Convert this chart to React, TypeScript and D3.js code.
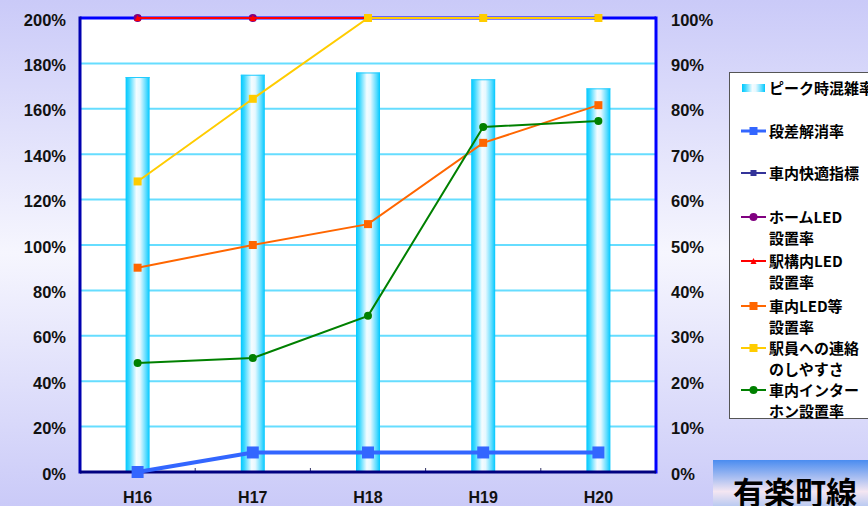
import React from 'react';
import * as d3 from 'd3';

const categories = ['H16', 'H17', 'H18', 'H19', 'H20'];
const peakCongestion = [174, 175, 176, 173, 169]; // left axis (%)
const stepFree = [0, 4.3, 4.3, 4.3, 4.3];
const comfortIndex = [100, 100, 100, 100, 100];
const platformLED = [100, 100, 100, 100, 100];
const stationLED = [100, 100, 100, 100, 100];
const carLED = [45, 50, 54.6, 72.5, 80.8];
const staffContact = [64, 82.2, 100, 100, 100];
const intercom = [24, 25.1, 34.4, 76, 77.3];

const leftTicks = [0, 20, 40, 60, 80, 100, 120, 140, 160, 180, 200];
const rightTicks = [0, 10, 20, 30, 40, 50, 60, 70, 80, 90, 100];

const legendLabels = [
  ['ピーク時混雑率'],
  ['段差解消率'],
  ['車内快適指標'],
  ['ホームLED', '設置率'],
  ['駅構内LED', '設置率'],
  ['車内LED等', '設置率'],
  ['駅員への連絡', 'のしやすさ'],
  ['車内インター', 'ホン設置率'],
];
const title = '有楽町線';

type Series = { values: number[]; color: string; width: number; marker: 'square' | 'circle' | 'triangle'; size: number };

const series: Series[] = [
  { values: stepFree, color: '#3366ff', width: 4, marker: 'square', size: 12 },
  { values: comfortIndex, color: '#333399', width: 2, marker: 'square', size: 6 },
  { values: platformLED, color: '#800080', width: 2, marker: 'circle', size: 8 },
  { values: stationLED, color: '#ff0000', width: 2, marker: 'triangle', size: 6 },
  { values: carLED, color: '#ff6600', width: 2, marker: 'square', size: 8 },
  { values: staffContact, color: '#ffcc00', width: 2, marker: 'square', size: 8 },
  { values: intercom, color: '#008000', width: 2, marker: 'circle', size: 8 },
];

const W = 868, H = 506;
const L = 80, R = 656, T = 18, B = 472;

function Marker({ x, y, s }: { x: number; y: number; s: Series }) {
  if (s.marker === 'square')
    return <rect x={x - s.size / 2} y={y - s.size / 2} width={s.size} height={s.size} fill={s.color} />;
  if (s.marker === 'circle') return <circle cx={x} cy={y} r={s.size / 2} fill={s.color} />;
  const h = s.size;
  return <path d={`M${x},${y - h / 2}L${x + h / 2},${y + h / 2}L${x - h / 2},${y + h / 2}Z`} fill={s.color} />;
}

export default function App() {
  const x = d3.scaleBand<string>().domain(categories).range([L, R]).padding(0);
  const yL = d3.scaleLinear().domain([0, 200]).range([B, T]);
  const yR = d3.scaleLinear().domain([0, 100]).range([B, T]);
  const cx = (c: string) => (x(c) as number) + x.bandwidth() / 2;
  const barW = 24;
  const line = d3
    .line<number>()
    .x((_, i) => cx(categories[i]))
    .y((d) => yR(d));

  const latin = '"Liberation Sans", Arial, sans-serif';
  const cjk = '"Noto Sans CJK JP", "Liberation Sans", sans-serif';

  const legX = 729, legY = 72;
  const itemY = [88, 131, 173, 217, 261, 306, 348, 390];

  return (
    <svg width={W} height={H} style={{ position: 'absolute', left: 0, top: 0 }}>
      <defs>
        <linearGradient id="bg" x1="0" y1="0" x2="0" y2="1">
          <stop offset="0" stopColor="#cacaf8" />
          <stop offset="0.5" stopColor="#f6f6fe" />
          <stop offset="1" stopColor="#cacaf8" />
        </linearGradient>
        <linearGradient id="bar" x1="0" y1="0" x2="1" y2="0">
          <stop offset="0" stopColor="#00c8ff" />
          <stop offset="0.15" stopColor="#3cd8ff" />
          <stop offset="0.45" stopColor="#f4fcff" />
          <stop offset="0.6" stopColor="#e6f8ff" />
          <stop offset="0.85" stopColor="#5cdcff" />
          <stop offset="1" stopColor="#00c8ff" />
        </linearGradient>
        <linearGradient id="ttl" x1="0" y1="0" x2="0" y2="1">
          <stop offset="0" stopColor="#4a8cf0" />
          <stop offset="0.45" stopColor="#f4e6f2" />
          <stop offset="1" stopColor="#5a9cf0" />
        </linearGradient>
      </defs>
      <rect x={0} y={0} width={W} height={H} fill="url(#bg)" />
      {/* plot area */}
      <rect x={L} y={T} width={R - L} height={B - T} fill="#ffffff" />
      {leftTicks.map((t) =>
        t > 0 && t < 200 ? (
          <line key={t} x1={L} x2={R} y1={yL(t)} y2={yL(t)} stroke="#66ddff" strokeWidth={2} />
        ) : null
      )}
      {categories.slice(1).map((c) => (
        <line key={c} x1={x(c)} x2={x(c)} y1={B} y2={B - 4} stroke="#333366" strokeWidth={1} />
      ))}
      {/* bars */}
      {categories.map((c, i) => (
        <g key={c}>
          <rect x={cx(c) - barW / 2} y={yL(peakCongestion[i])} width={barW} height={B - yL(peakCongestion[i])} fill="url(#bar)" />
          <line x1={cx(c) - barW / 2} x2={cx(c) + barW / 2} y1={yL(peakCongestion[i]) + 0.5} y2={yL(peakCongestion[i]) + 0.5} stroke="#22ccff" strokeWidth={1} />
        </g>
      ))}
      {/* borders */}
      <line x1={L} x2={R} y1={T} y2={T} stroke="#0000ff" strokeWidth={3} />
      <line x1={R} x2={R} y1={T - 1.5} y2={B + 1.5} stroke="#0000ff" strokeWidth={3} />
      <line x1={L} x2={L} y1={T - 1.5} y2={B + 1.5} stroke="#0000b0" strokeWidth={3} />
      <line x1={L} x2={R} y1={B} y2={B} stroke="#000080" strokeWidth={3} />
      {/* lines */}
      {series.map((s, k) => (
        <g key={k}>
          <path d={line(s.values) || ''} fill="none" stroke={s.color} strokeWidth={s.width} />
          {s.values.map((v, i) => (
            <Marker key={i} x={cx(categories[i])} y={yR(v)} s={s} />
          ))}
        </g>
      ))}
      {/* left axis labels */}
      {leftTicks.map((t) => (
        <text key={t} x={66} y={yL(t) + 7.5} textAnchor="end" fontFamily={latin} fontWeight="bold" fontSize={16.5} fill="#111">
          {t}%
        </text>
      ))}
      {rightTicks.map((t) => (
        <text key={t} x={671} y={yR(t) + 7.5} textAnchor="start" fontFamily={latin} fontWeight="bold" fontSize={16.5} fill="#111">
          {t}%
        </text>
      ))}
      {categories.map((c) => (
        <text key={c} x={cx(c)} y={503} textAnchor="middle" fontFamily={latin} fontWeight="bold" fontSize={16} fill="#111">
          {c}
        </text>
      ))}
      {/* legend */}
      <rect x={legX + 0.5} y={legY + 0.5} width={W} height={418 - legY} fill="#ffffff" stroke="#555" strokeWidth={1} />
      <rect x={742} y={itemY[0] - 4} width={23} height={8} fill="url(#bar)" />
      {series.map((s, k) => {
        const yy = itemY[k + 1];
        const sz = Math.min(s.size, 8);
        return (
          <g key={k}>
            <line x1={741} x2={766} y1={yy} y2={yy} stroke={s.color} strokeWidth={Math.min(s.width, 3)} />
            <Marker x={753.5} y={yy} s={{ ...s, size: sz }} />
          </g>
        );
      })}
      {legendLabels.map((lab, k) =>
        lab.map((t, j) => (
          <text key={`${k}-${j}`} x={769} y={itemY[k] + 5.5 + j * 21} fontFamily={cjk} fontWeight="bold" fontSize={15} fill="#000">
            {t}
          </text>
        ))
      )}
      {/* title */}
      <rect x={713} y={460} width={W - 713} height={70} fill="url(#ttl)" />
      <text x={733} y={504} fontFamily={cjk} fontWeight="bold" fontSize={31} fill="#000">
        {title}
      </text>
    </svg>
  );
}
